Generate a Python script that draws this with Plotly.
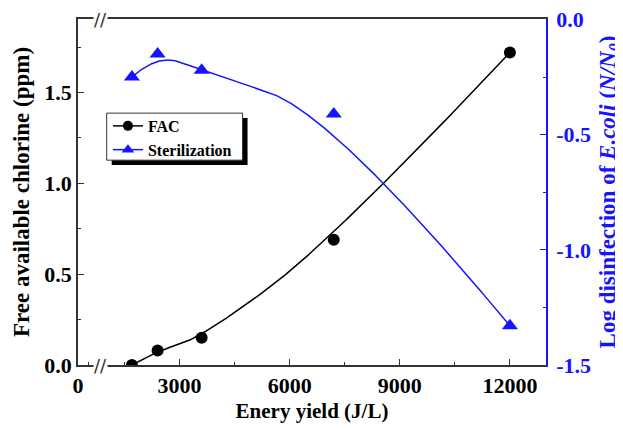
import numpy as np
import plotly.graph_objects as go

# ---- data ----
energy = [1700, 2400, 3600, 7200, 12000]
fac = [0.00, 0.08, 0.15, 0.69, 1.72]
sterilization = [-0.25, -0.15, -0.22, -0.41, -1.33]

x_tick_vals = [231, 3000, 6000, 9000, 12000]
x_tick_text = ["0", "3000", "6000", "9000", "12000"]
x_minor_vals = [504, 1500, 4500, 7500, 10500]
y_tick_vals = [0.0, 0.5, 1.0, 1.5]
y_tick_text = ["0.0", "0.5", "1.0", "1.5"]
y2_tick_vals = [0.0, -0.5, -1.0, -1.5]
y2_tick_text = ["0.0", "-0.5", "-1.0", "-1.5"]

BLUE = "#1414ff"
AX = "#333333"
FONT = "Liberation Serif, Times New Roman, serif"


def bspline(xs, ys, k=2, n=500):
    """Clamped B-spline curve using the data points as control points."""
    P = np.column_stack([xs, ys]).astype(float)
    m = len(P)
    inner = np.linspace(0, 1, m - k + 1)[1:-1]
    knots = np.concatenate([np.zeros(k + 1), inner, np.ones(k + 1)])
    t = np.linspace(0, 1, n)
    t[-1] -= 1e-12

    def N(i, p, tt):
        if p == 0:
            return ((knots[i] <= tt) & (tt < knots[i + 1])).astype(float)
        d1 = knots[i + p] - knots[i]
        d2 = knots[i + p + 1] - knots[i + 1]
        out = np.zeros_like(tt)
        if d1 > 0:
            out += (tt - knots[i]) / d1 * N(i, p - 1, tt)
        if d2 > 0:
            out += (knots[i + p + 1] - tt) / d2 * N(i + 1, p - 1, tt)
        return out

    B = np.column_stack([N(i, k, t) for i in range(m)])
    C = B @ P
    return C[:, 0], C[:, 1]


fx, fy = bspline(energy, fac)
sx, sy = bspline(energy, sterilization)

fig = go.Figure()
fig.add_trace(go.Scatter(x=fx, y=fy, mode="lines", line=dict(color="black", width=1.5),
                         showlegend=False, hoverinfo="skip"))
fig.add_trace(go.Scatter(x=sx, y=sy, mode="lines", line=dict(color=BLUE, width=1.5),
                         showlegend=False, hoverinfo="skip", yaxis="y2"))
fig.add_trace(go.Scatter(x=energy, y=fac, mode="markers", name="FAC", showlegend=False,
                         marker=dict(symbol="circle", size=12, color="black")))
fig.add_trace(go.Scatter(x=energy, y=sterilization, mode="markers", name="Sterilization",
                         showlegend=False,
                         marker=dict(symbol="triangle-up", size=14, color=BLUE), yaxis="y2"))
# legend entries (line + symbol, as in the reference legend)
fig.add_trace(go.Scatter(x=[None], y=[None], mode="lines+markers", name="FAC",
                         line=dict(color="black", width=1.5),
                         marker=dict(symbol="circle", size=10, color="black")))
fig.add_trace(go.Scatter(x=[None], y=[None], mode="lines+markers", name="Sterilization",
                         line=dict(color=BLUE, width=1.5),
                         marker=dict(symbol="triangle-up", size=11, color=BLUE), yaxis="y2"))

tickfont = dict(family=FONT, size=22, color="black", weight="bold")

fig.update_layout(
    width=615, height=421,
    margin=dict(l=70, r=77, t=11, b=64),
    paper_bgcolor="white", plot_bgcolor="white",
    font=dict(family=FONT, color="black"),
    xaxis=dict(range=[231, 12983], tickvals=x_tick_vals, ticktext=x_tick_text,
               ticks="inside", ticklen=6, tickcolor=AX, tickwidth=1.3,
               showline=True, linecolor=AX, linewidth=1.5, mirror=True,
               showgrid=False, zeroline=False, tickfont=tickfont, automargin=False,
               ticklabeloverflow="allow",
               minor=dict(tickvals=x_minor_vals, ticks="inside", ticklen=3, tickcolor=AX),
               title=dict(text="Enery yield (J/L)", font=dict(family=FONT, size=21, weight="bold"),
                          standoff=6)),
    yaxis=dict(range=[0, 1.905], tickvals=y_tick_vals, ticktext=y_tick_text,
               ticks="inside", ticklen=6, tickcolor=AX, tickwidth=1.3,
               showline=True, linecolor=AX, linewidth=1.5,
               showgrid=False, zeroline=False, tickfont=tickfont, automargin=False,
               ticklabeloverflow="allow",
               minor=dict(dtick=0.25, tick0=0, ticks="inside", ticklen=3, tickcolor=AX),
               title=dict(text="Free available chlorine (ppm)",
                          font=dict(family=FONT, size=23, weight="bold"), standoff=8)),
    yaxis2=dict(range=[-1.5, 0.002], overlaying="y", side="right",
                tickvals=y2_tick_vals, ticktext=y2_tick_text,
                ticks="inside", ticklen=6, tickcolor=BLUE, tickwidth=1.3,
                showline=True, linecolor=BLUE, linewidth=1.5,
                showgrid=False, zeroline=False, automargin=False, ticklabelstandoff=4,
                ticklabeloverflow="allow",
                tickfont=dict(family=FONT, size=22, color=BLUE, weight="bold"),
                minor=dict(dtick=0.25, tick0=0, ticks="inside", ticklen=3, tickcolor=BLUE),
                title=dict(text="Log disinfection of <i>E.coli</i> (<i>N/N<sub>0</sub></i>)",
                           font=dict(family=FONT, size=23, color=BLUE, weight="bold"), standoff=10)),
    legend=dict(x=0.064, y=0.74, xanchor="left", yanchor="top",
                bgcolor="rgba(0,0,0,0)", borderwidth=0,
                font=dict(family=FONT, size=16, weight="bold"), itemwidth=30,
                tracegroupgap=0),
    showlegend=True,
)

# legend frame with drop shadow
fig.add_shape(type="rect", xref="paper", yref="paper",
              x0=0.0720, x1=0.3623, y0=0.578, y1=0.714,
              fillcolor="black", line=dict(width=0), layer="above")
fig.add_shape(type="rect", xref="paper", yref="paper",
              x0=0.0613, x1=0.3516, y0=0.592, y1=0.728,
              fillcolor="white", line=dict(width=1, color=AX), layer="above")

# axis break marks
for yy in (0, 1):
    fig.add_annotation(x=0.048, y=yy, xref="paper", yref="paper", text="//",
                       xanchor="center", yanchor="middle",
                       showarrow=False, bgcolor="white", borderpad=0,
                       font=dict(family="DejaVu Sans", size=18, color=AX))

fig.write_html("out.html")
